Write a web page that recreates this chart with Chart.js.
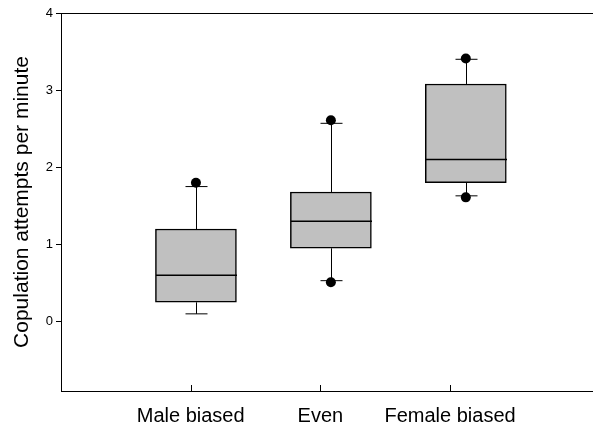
<!DOCTYPE html>
<html>
<head>
<meta charset="utf-8">
<script src="https://cdn.jsdelivr.net/npm/chart.js@4"></script>
<style>
  html, body { margin: 0; padding: 0; background: #fff; overflow: hidden; }
  #wrap { width: 593px; height: 428px; overflow: hidden; }
  canvas { display: block; }
</style>
</head>
<body>
<div id="wrap"><canvas id="myChart" width="599" height="428"></canvas></div>
<script>
// values
const categories = ["Male biased", "Even", "Female biased"];
const q1 = [0.25, 0.95, 1.80];
const median = [0.60, 1.30, 2.10];
const q3 = [1.20, 1.68, 3.08];
const whiskerLow = [0.10, 0.53, 1.63];
const whiskerHigh = [1.75, 2.57, 3.40];
const outlierGroup = [1, 2, 2, 3, 3];
const outlierValue = [1.80, 2.61, 0.51, 3.41, 1.61];
const yTicks = [0, 1, 2, 3, 4];

const FONT = "Arial, 'Liberation Sans', sans-serif";

// whiskers, caps and medians, drawn right after the boxes
const boxExtras = {
  id: "boxExtras",
  afterDatasetDraw(chart, args) {
    if (args.index !== 1) return;
    const ctx = chart.ctx, xs = chart.scales.x, ys = chart.scales.y;
    ctx.save();
    ctx.strokeStyle = "#000";
    ctx.lineWidth = 1;
    for (let i = 0; i < categories.length; i++) {
      const cx = Math.round(xs.getPixelForValue(i + 1)) + 0.5;
      const half = 40.5;
      const line = (x1, y1, x2, y2) => {
        ctx.beginPath(); ctx.moveTo(x1, y1); ctx.lineTo(x2, y2); ctx.stroke();
      };
      const yLo = ys.getPixelForValue(whiskerLow[i]);
      const yHi = ys.getPixelForValue(whiskerHigh[i]);
      line(cx, ys.getPixelForValue(q1[i]), cx, yLo);
      line(cx, ys.getPixelForValue(q3[i]), cx, yHi);
      line(cx - 11, yLo, cx + 11, yLo);
      line(cx - 11, yHi, cx + 11, yHi);
      ctx.lineWidth = 1.5;
      const ym = ys.getPixelForValue(median[i]);
      line(cx - half, ym, cx + half, ym);
      ctx.lineWidth = 1;
    }
    ctx.restore();
  },
  afterDraw(chart) {
    const ctx = chart.ctx, a = chart.chartArea, xl = chart.scales.xl;
    ctx.save();
    ctx.strokeStyle = "#000";
    ctx.lineWidth = 1;
    // top frame line
    ctx.beginPath();
    ctx.moveTo(a.left, a.top + 0.5);
    ctx.lineTo(chart.width, a.top + 0.5);
    ctx.stroke();
    // inward x tick marks
    for (let i = 0; i < categories.length; i++) {
      const x = Math.round(xl.getPixelForValue(i + 1)) + 0.5;
      ctx.beginPath();
      ctx.moveTo(x, a.bottom);
      ctx.lineTo(x, a.bottom - 6);
      ctx.stroke();
    }
    ctx.restore();
  }
};

new Chart(document.getElementById("myChart"), {
  type: "bar",
  data: {
    datasets: [
      {
        type: "scatter",
        order: 1,
        xAxisID: "x",
        data: outlierGroup.map((g, i) => ({ x: g, y: outlierValue[i] })),
        pointRadius: 5,
        pointBackgroundColor: "#000",
        pointBorderWidth: 0
      },
      {
        type: "bar",
        order: 2,
        xAxisID: "x",
        data: categories.map((c, i) => ({ x: i + 1, y: [q1[i], q3[i]] })),
        backgroundColor: "#c0c0c0",
        borderColor: "#000",
        borderWidth: 1.5,
        borderSkipped: false,
        barThickness: 81
      }
    ]
  },
  options: {
    responsive: false,
    animation: false,
    layout: { padding: { left: 0, right: 0, top: 13, bottom: 0 } },
    plugins: { legend: { display: false }, tooltip: { enabled: false } },
    scales: {
      x: {
        type: "linear",
        display: false,
        offset: false,
        min: 0,
        max: 3.95
      },
      xl: {
        type: "linear",
        position: "bottom",
        offset: false,
        min: 0,
        max: 4.11,
        afterBuildTicks: (s) => { s.ticks = categories.map((c, i) => ({ value: i + 1 })); },
        afterFit: (s) => { s.height = 37; },
        grid: { display: false, drawTicks: false, offset: false },
        border: { display: true, color: "#000", width: 1 },
        ticks: {
          padding: 13,
          color: "#000",
          maxRotation: 0,
          autoSkip: false,
          font: { family: FONT, size: 20 },
          callback: (v) => categories[v - 1]
        }
      },
      y: {
        type: "linear",
        min: -0.9,
        max: 4,
        afterBuildTicks: (s) => { s.ticks = yTicks.map(v => ({ value: v })); },
        afterFit: (s) => { s.width = 61; },
        grid: { drawOnChartArea: false, tickLength: 5, color: "#000" },
        border: { display: true, color: "#000", width: 1 },
        ticks: {
          padding: 3,
          color: "#000",
          font: { family: FONT, size: 13 }
        },
        title: {
          display: true,
          text: "Copulation attempts per minute",
          color: "#000",
          font: { family: FONT, size: 21 },
          padding: { top: 10, bottom: 0 }
        }
      }
    }
  },
  plugins: [boxExtras]
});
</script>
</body>
</html>
